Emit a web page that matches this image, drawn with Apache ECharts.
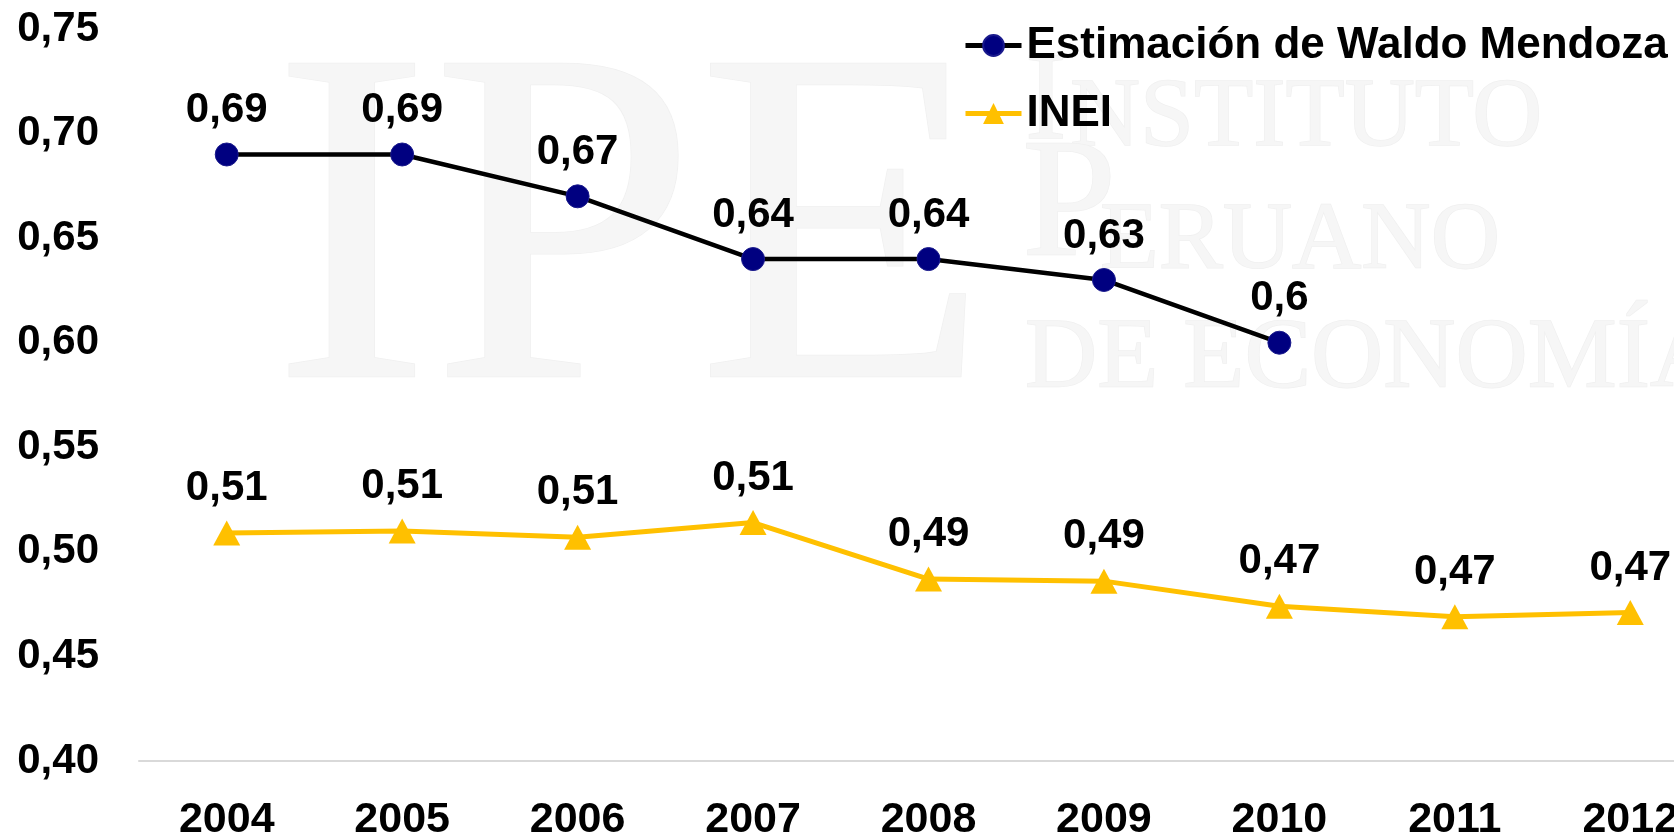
<!DOCTYPE html>
<html>
<head>
<meta charset="utf-8">
<script src="https://cdn.jsdelivr.net/npm/echarts@6/dist/echarts.min.js"></script>
<style>
  html, body { margin: 0; padding: 0; background: #ffffff; }
  #chart { width: 1674px; height: 839px; }
</style>
</head>
<body>
<div id="chart"></div>
<script>
// Coeficiente de Gini: estimación de Waldo Mendoza vs. INEI
const years = ['2004', '2005', '2006', '2007', '2008', '2009', '2010', '2011', '2012'];
const waldoMendoza = [0.69, 0.69, 0.67, 0.64, 0.64, 0.63, 0.60, null, null];
const inei = [0.509, 0.510, 0.507, 0.514, 0.487, 0.486, 0.474, 0.469, 0.471];
const yTicks = { min: 0.40, max: 0.75, interval: 0.05 };
const seriesNames = ['Estimación de Waldo Mendoza', 'INEI'];

const FONT = 'Liberation Sans';
const WM_FONT = 'Liberation Serif';
const WM_COLOR = '#f6f6f6';
const WM_EDGE = '#f0f0f0';

function labelText(v) {
  return String(Math.round(v * 100) / 100).replace('.', ',');
}

const chart = echarts.init(document.getElementById('chart'), null, { renderer: 'canvas' });

// faint institutional watermark behind the plot
function wmText(text, x, y, size) {
  return {
    type: 'text', z: 0, silent: true,
    style: {
      text: text, x: x, y: y, fill: WM_COLOR,
      stroke: WM_EDGE, lineWidth: 1.5,
      font: size + 'px "' + WM_FONT + '"',
      textAlign: 'left', textVerticalAlign: 'bottom'
    }
  };
}

chart.setOption({
  animation: false,
  backgroundColor: '#ffffff',
  graphic: [
    wmText('IPE', 272, 490, 478),
    wmText('I', 1025, 168, 125),
    wmText('NSTITUTO', 1070, 168, 97),
    wmText('P', 1022, 295, 170),
    wmText('ERUANO', 1100, 291, 96),
    wmText('DE ECONOMÍA', 1025, 410, 100)
  ],
  grid: {
    left: 139, width: 1579, top: 29, bottom: 78,
    containLabel: false, outerBoundsMode: 'none'
  },
  legend: {
    orient: 'vertical',
    left: 958,
    top: 16,
    itemWidth: 56,
    itemHeight: 26,
    itemGap: 19,
    lineStyle: { width: 5 },
    textStyle: { fontFamily: FONT, fontWeight: 'bold', fontSize: 44, color: '#000000', lineHeight: 49 },
    data: seriesNames
  },
  xAxis: {
    type: 'category',
    data: years,
    boundaryGap: true,
    axisLine: { show: true, lineStyle: { color: '#d9d9d9', width: 2 } },
    axisTick: { show: false },
    axisLabel: { margin: 38, fontFamily: FONT, fontWeight: 'bold', fontSize: 43, color: '#000000' },
    splitLine: { show: false }
  },
  yAxis: {
    type: 'value',
    min: yTicks.min,
    max: yTicks.max,
    interval: yTicks.interval,
    axisLine: { show: false },
    axisTick: { show: false },
    splitLine: { show: false },
    axisLabel: {
      margin: 40, fontFamily: FONT, fontWeight: 'bold', fontSize: 42, color: '#000000',
      formatter: v => v.toFixed(2).replace('.', ',')
    }
  },
  series: [
    {
      name: seriesNames[0],
      type: 'line',
      data: waldoMendoza,
      symbol: 'circle',
      symbolSize: 23,
      lineStyle: { color: '#000000', width: 4.5 },
      itemStyle: { color: '#000080', borderColor: '#1a1a8c', borderWidth: 1 },
      label: {
        show: true, position: 'top', distance: 11,
        fontFamily: FONT, fontWeight: 'bold', fontSize: 42, color: '#000000',
        formatter: p => labelText(p.value)
      },
      z: 3
    },
    {
      name: seriesNames[1],
      type: 'line',
      data: inei,
      symbol: 'triangle',
      symbolSize: [27, 25],
      lineStyle: { color: '#ffc000', width: 5 },
      itemStyle: { color: '#ffc000' },
      label: {
        show: true, position: 'top', distance: 11,
        fontFamily: FONT, fontWeight: 'bold', fontSize: 42, color: '#000000',
        formatter: p => labelText(p.value)
      },
      z: 3
    }
  ]
});
</script>
</body>
</html>
